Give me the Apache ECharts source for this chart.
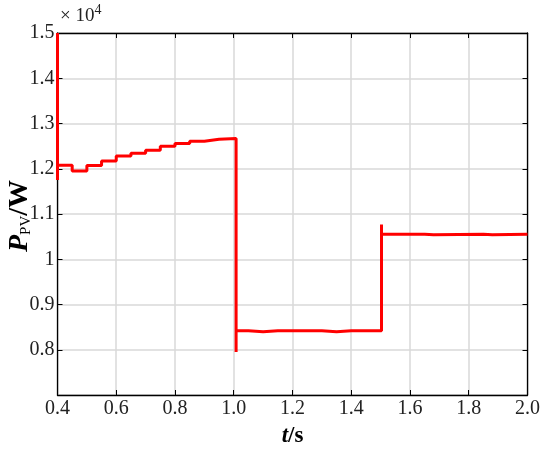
<!DOCTYPE html>
<html>
<head>
<meta charset="utf-8">
<script src="https://cdn.jsdelivr.net/npm/echarts@6/dist/echarts.min.js"></script>
<style>html,body{margin:0;padding:0;background:#fff;}#c{width:550px;height:454px;}</style>
</head>
<body>
<div id="c"></div>
<script>
// time points (s) and PV power (W); drawn with step:'end'
var tPoints = [0.400, 0.400, 0.400, 0.45, 0.50, 0.55, 0.60, 0.65, 0.70, 0.75, 0.80, 0.85, 0.90, 0.95,
               1.008, 1.008, 1.05, 1.10, 1.15, 1.30, 1.35, 1.40, 1.503, 1.503, 1.503, 1.65, 1.68, 1.85, 1.88, 2.0];
var pPoints = [15000, 11750, 12080, 11950, 12070, 12170, 12280, 12340, 12410, 12500, 12560, 12610, 12650, 12670,
               7950, 8420, 8400, 8420, 8420, 8400, 8420, 8420, 8430, 10770, 10550, 10540, 10550, 10540, 10550, 10550];
var xTicks = ['0.4','0.6','0.8','1.0','1.2','1.4','1.6','1.8','2.0'];
var yTicks = ['', '0.8', '0.9', '1', '1.1', '1.2', '1.3', '1.4', '1.5'];

var data = tPoints.map(function(t, i){ return [t, pPoints[i]]; });
var serif = '"Liberation Serif", "Times New Roman", serif';
var chart = echarts.init(document.getElementById('c'), null, {renderer: 'canvas'});
var gridCol = '#d9d9d9';
var xBase = {
  type: 'value', min: 0.4, max: 2.0, interval: 0.2,
  axisLine: {show: true, onZero: false, lineStyle: {color: '#000', width: 1.3}},
  axisTick: {show: true, inside: true, length: 5, lineStyle: {color: '#000'}},
  splitLine: {show: false}
};
var yBase = {
  type: 'value', min: 7000, max: 15000, interval: 1000,
  axisLine: {show: true, onZero: false, lineStyle: {color: '#000', width: 1.3}},
  axisTick: {show: true, inside: true, length: 5, lineStyle: {color: '#000'}},
  splitLine: {show: false}
};
chart.setOption({
  animation: false,
  backgroundColor: '#fff',
  grid: {left: 57.5, right: 22.5, top: 33, bottom: 59, containLabel: false, outerBoundsMode: 'none'},
  xAxis: [
    Object.assign({}, xBase, {
      position: 'bottom',
      splitLine: {show: true, lineStyle: {color: gridCol, width: 1.5}},
      axisLabel: {color: '#222', fontFamily: serif, fontSize: 20, margin: 4,
        formatter: function(v){ return xTicks[Math.round((v - 0.4) / 0.2)]; }},
      name: '{i|t}{n|/s}', nameLocation: 'middle', nameGap: 30,
      nameTextStyle: {rich: {
        i: {fontFamily: serif, fontSize: 23, fontWeight: 'bold', fontStyle: 'italic', color: '#000'},
        n: {fontFamily: serif, fontSize: 23, fontWeight: 'bold', color: '#000'}
      }}
    }),
    Object.assign({}, xBase, {position: 'top', axisLabel: {show: false}})
  ],
  yAxis: [
    Object.assign({}, yBase, {
      position: 'left',
      splitLine: {show: true, lineStyle: {color: gridCol, width: 1.5}},
      axisLabel: {color: '#222', fontFamily: serif, fontSize: 20, margin: 3,
        formatter: function(v){ return yTicks[Math.round((v - 7000) / 1000)]; }}
    }),
    Object.assign({}, yBase, {position: 'right', axisLabel: {show: false}})
  ],
  graphic: [{
    type: 'text', left: 60, top: 3,
    style: {
      text: '{a|× 10}{b|4}',
      rich: {
        a: {fontFamily: serif, fontSize: 19, fill: '#222'},
        b: {fontFamily: serif, fontSize: 14, fill: '#222', padding: [0, 0, 12, 0]}
      }
    }
  }, {
    type: 'text', x: 20, y: 216, rotation: Math.PI / 2,
    style: {
      text: '{p|P}{s|PV}{n|/W}', align: 'center', verticalAlign: 'middle',
      rich: {
        p: {fontFamily: serif, fontSize: 28, fontWeight: 'bold', fontStyle: 'italic', fill: '#000'},
        s: {fontFamily: serif, fontSize: 15, fill: '#000', padding: [12, 0, 0, 0]},
        n: {fontFamily: serif, fontSize: 28, fontWeight: 'bold', fill: '#000'}
      }
    }
  }],
  series: [{
    type: 'line', xAxisIndex: 0, yAxisIndex: 0,
    step: 'end', data: data, showSymbol: false, symbol: 'none',
    lineStyle: {color: '#ff0000', width: 3},
    clip: true
  }]
});
</script>
</body>
</html>
